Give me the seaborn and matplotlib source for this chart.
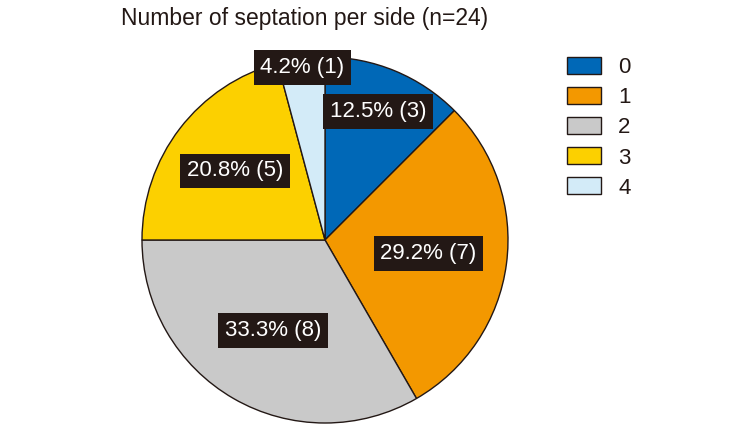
import numpy as np
import matplotlib
matplotlib.use("Agg")
import matplotlib.pyplot as plt
import seaborn as sns

# data
categories = ["0", "1", "2", "3", "4"]
counts = [3, 7, 8, 5, 1]
percents = [12.5, 29.2, 33.3, 20.8, 4.2]
colors = ["#0068b7", "#f39800", "#c9c9c9", "#fcd000", "#d3ebf8"]
label_radius = [0.76, 0.57, 0.57, 0.62, 0.95]

sns.set_theme(style="white")
plt.rcParams["font.family"] = ["Liberation Sans", "DejaVu Sans"]

fig = plt.figure(figsize=(7.53, 4.25), dpi=100)
ax = fig.add_axes([142 / 753, 2 / 425, 366 / 753, 366 / 425])

wedges, _ = ax.pie(counts, colors=colors, startangle=90, counterclock=False,
                   radius=1,
                   wedgeprops=dict(edgecolor="#231815", linewidth=1.0))
ax.set_xlim(-1, 1)
ax.set_ylim(-1, 1)
ax.set_aspect("equal")
ax.axis("off")

for w, pct, n, r in zip(wedges, percents, counts, label_radius):
    mid = np.deg2rad((w.theta1 + w.theta2) / 2)
    ax.text(r * np.cos(mid), r * np.sin(mid), f"{pct}% ({n})",
            ha="center", va="center", color="white", fontsize=16,
            bbox=dict(boxstyle="square,pad=0.3", fc="#231815", ec="none"),
            zorder=5)

fig.text(305 / 753, 1 - 18 / 425, "Number of septation per side (n=24)",
         ha="center", va="center", fontsize=16.5, color="#231815")

leg = fig.legend(wedges, categories, loc="upper left",
                 bbox_to_anchor=(567 / 753, 1 - 57 / 425), frameon=False,
                 fontsize=16, handlelength=1.55, handleheight=0.8,
                 handletextpad=0.75, labelspacing=0.4, borderpad=0,
                 borderaxespad=0)
for t in leg.get_texts():
    t.set_color("#231815")

fig.savefig("out.png", dpi=100)
